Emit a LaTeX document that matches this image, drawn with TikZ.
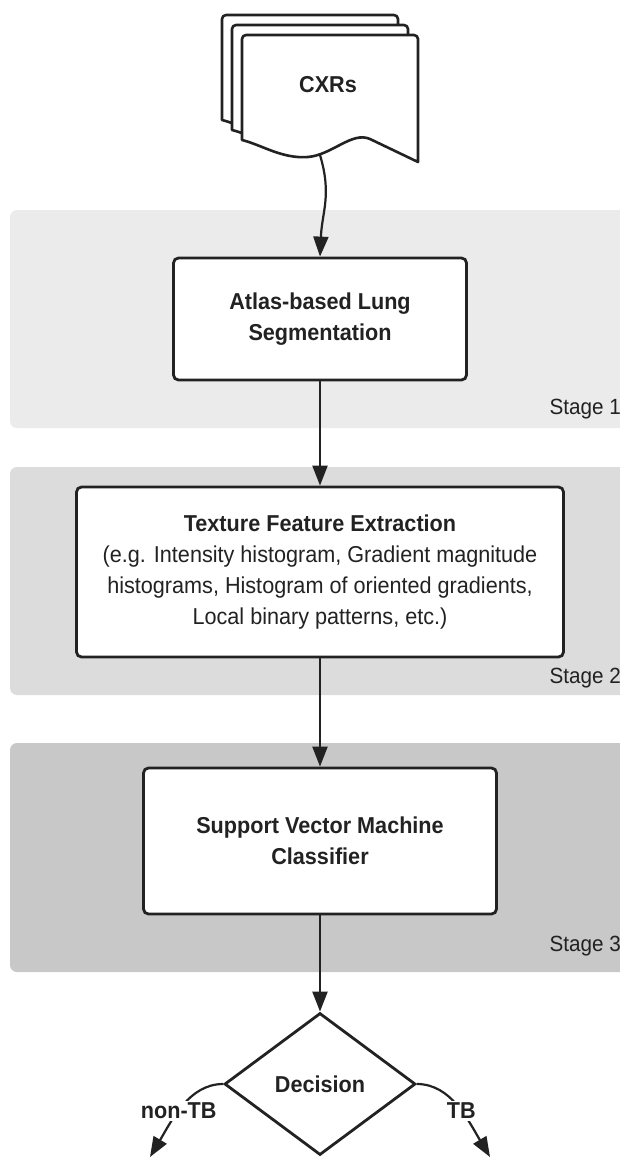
\documentclass[tikz,border=0pt]{standalone}
\usepackage{fontspec}
\setmainfont[FakeStretch=0.94]{Liberation Sans}
\usetikzlibrary{arrows.meta, shapes.geometric}

\definecolor{ink}{HTML}{222222}
\definecolor{bandA}{HTML}{EBEBEB}
\definecolor{bandB}{HTML}{DCDCDC}
\definecolor{bandC}{HTML}{C8C8C8}

\begin{document}
\begin{tikzpicture}[
    x=1pt, y=-1pt,
    >={Triangle[length=20pt, width=15pt]},
    every node/.style={font=\fontsize{23}{31}\selectfont, text=ink, align=center},
    stepbox/.style={draw=ink, fill=white, rounded corners=5pt, line width=2.8pt},
    page/.style={draw=ink, fill=white, line width=2.6pt, line join=round},
    band/.style={rounded corners=7pt},
    stagelabel/.style={anchor=east, inner sep=0pt, font=\fontsize{22}{26}\selectfont},
    branch/.style={fill=white, inner sep=2pt, pos=0.55,
      font=\fontsize{23}{26}\selectfont\bfseries},
    flow arrow/.style={->, draw=ink, line width=2.2pt},
  ]

  \useasboundingbox (0,0) rectangle (620,1157);

  %% ---- stage bands (run off the right edge) ----
  \fill[band, bandA] (10,210) rectangle (640,428);
  \fill[band, bandB] (10,467) rectangle (640,695);
  \fill[band, bandC] (10,743) rectangle (640,972);

  \node[stagelabel] (stage1) at (621,409) {Stage 1};
  \node[stagelabel] (stage2) at (621,678) {Stage 2};
  \node[stagelabel] (stage3) at (621,946) {Stage 3};

  %% ---- stack of input images, back page first ----
  \foreach \s in {20,10,0} {
    \begin{scope}[shift={(242-\s,35-\s)}]
      \draw[page] (0,105) [rounded corners=4pt] -- (0,0) -- (176,0)
        [sharp corners] -- (176,127) -- (128,104)
        .. controls (110,96) and (90,120) .. (66,122)
        .. controls (40,124) and (20,110) .. (0,105) -- cycle;
    \end{scope}
  }
  \node (cxr) at (328,85) {\textbf{CXRs}};
  \coordinate (cxrfoot) at (320,155);

  %% ---- processing steps ----
  \node[stepbox, minimum width=293pt, minimum height=122pt] (seg) at (320,319)
    {\textbf{Atlas-based Lung}\\\textbf{Segmentation}};

  \node[stepbox, minimum width=487pt, minimum height=170pt] (feat) at (320,572)
    {\textbf{Texture Feature Extraction}\\
     (e.g. Intensity histogram, Gradient magnitude\\
     histograms, Histogram of oriented gradients,\\
     Local binary patterns, etc.)};

  \node[stepbox, minimum width=353pt, minimum height=146pt] (svm) at (320,841)
    {\textbf{Support Vector Machine}\\\textbf{Classifier}};

  \node[diamond, draw=ink, fill=white, line width=2.8pt, inner sep=0pt,
        aspect=1.35, minimum width=191pt, minimum height=142pt]
    (dec) at (320,1084) {\textbf{Decision}};

  %% ---- outcome ends (at the bottom edge) ----
  \coordinate (noTB) at (150,1157);
  \coordinate (isTB) at (490,1157);

  %% ---- flow ----
  \draw[flow arrow] (cxrfoot) .. controls +(12,40) and +(2,-45) .. (seg.north);
  \draw[flow arrow] (seg.south) -- (feat.north);
  \draw[flow arrow] (feat.south) -- (svm.north);
  \draw[flow arrow] (svm.south) -- (dec.north);

  \draw[flow arrow] (dec.west) .. controls +(-34,0) and +(22,-37) ..
    node[branch] (nontb) {non-TB} (noTB);
  \draw[flow arrow] (dec.east) .. controls +(34,0) and +(-22,-37) ..
    node[branch] (tb) {TB} (isTB);

\end{tikzpicture}
\end{document}
